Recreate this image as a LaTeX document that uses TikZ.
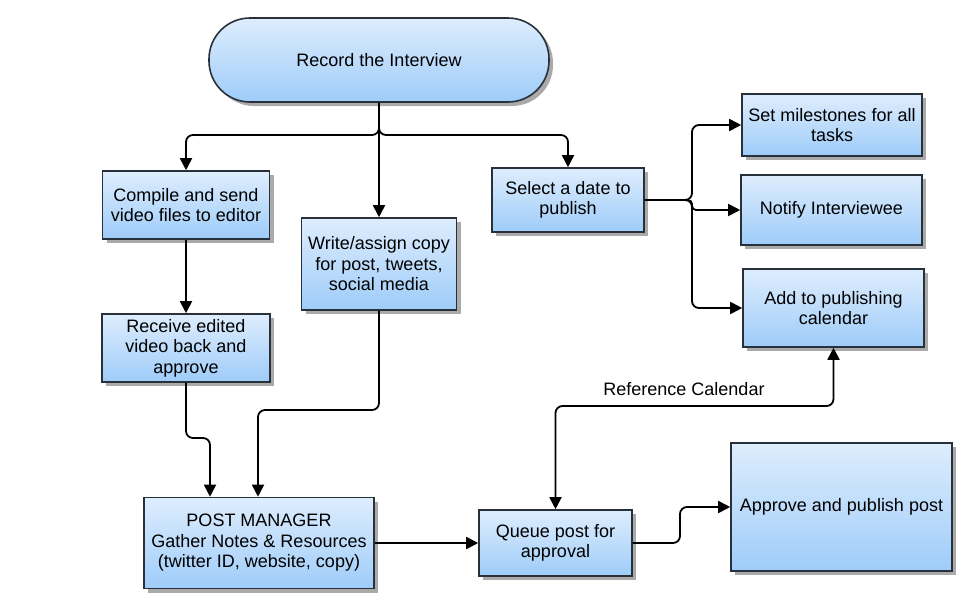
\documentclass[tikz,border=0pt]{standalone}
\usepackage{fontspec}
\setmainfont{Liberation Sans}
\usetikzlibrary{shadows,arrows.meta}
\definecolor{topc}{RGB}{222,237,253}
\definecolor{botc}{RGB}{158,204,249}
\definecolor{edgec}{RGB}{40,48,58}
\definecolor{shadec}{RGB}{170,170,170}
\begin{document}
\begin{tikzpicture}[x=1pt,y=-1pt,
  >={Triangle[length=12pt,width=12pt]},
  box/.style={draw=edgec, line width=1.6pt, top color=topc, bottom color=botc,
    align=center, inner sep=0pt, font=\fontsize{18}{20.5}\selectfont,
    drop shadow={shadow xshift=4pt,shadow yshift=-4pt,fill=shadec,opacity=1}},
  conn/.style={line width=1.8pt, rounded corners=7pt},
  lbl/.style={font=\fontsize{18}{20.5}\selectfont, inner sep=0pt}]
\useasboundingbox (0,0) rectangle (972,608);

\node[box, rounded corners=41pt, minimum width=340pt, minimum height=84pt] (rec) at (379,60) {Record the Interview};
\node[box, minimum width=167pt, minimum height=68pt] (comp) at (186,205) {Compile and send\\video files to editor};
\node[box, minimum width=168pt, minimum height=68pt] (recv) at (186,348) {Receive edited\\video back and\\approve};
\node[box, minimum width=155pt, minimum height=92pt] (write) at (379,264) {Write/assign copy\\for post, tweets,\\social media};
\node[box, minimum width=152pt, minimum height=64pt] (sel) at (568,200) {Select a date to\\publish};
\node[box, minimum width=180pt, minimum height=62pt] (set) at (832,125) {Set milestones for all\\tasks};
\node[box, minimum width=181pt, minimum height=70pt] (noti) at (831.5,210) {Notify Interviewee};
\node[box, minimum width=181pt, minimum height=78pt] (add) at (833.5,308) {Add to publishing\\calendar};
\node[box, minimum width=230pt, minimum height=91pt] (pm) at (259,543) {POST MANAGER\\Gather Notes \& Resources\\(twitter ID, website, copy)};
\node[box, minimum width=153pt, minimum height=66pt] (queue) at (555.5,543) {Queue post for\\approval};
\node[box, minimum width=221pt, minimum height=128pt] (appr) at (841.5,507) {Approve and publish post};

\coordinate (j) at (379,135);
\draw[conn,->] (rec.south) -- (j) -| (comp.north);
\draw[conn,->] (rec.south) -- (write.north);
\draw[conn,->] (rec.south) -- (j) -| (sel.north);

\draw[conn,->] (comp.south) -- (recv.north);
\coordinate (r1) at (186,438);
\draw[conn,->] (recv.south) -- (r1) -| ([xshift=-49pt]pm.north);
\coordinate (w1) at (379,410);
\draw[conn,->] (write.south) -- (w1) -| ([xshift=-1pt]pm.north);

\draw[conn,->] (pm.east) -- (queue.west);
\coordinate (q1) at (680,543);
\draw[conn,->] (queue.east) -- (q1) |- (appr.west);

\coordinate (k) at (692,200);
\draw[conn,->] (sel.east) -- (k) |- (set.west);
\draw[conn,->,rounded corners=4pt] (sel.east) -- (k) |- (noti.west);
\draw[conn,->] (sel.east) -- (k) |- (add.west);

\coordinate (rc) at (700,406);
\draw[conn,<->] (queue.north) |- (rc) -| (add.south);
\node[lbl] (rclab) at (684,389) {Reference Calendar};
\end{tikzpicture}
\end{document}
